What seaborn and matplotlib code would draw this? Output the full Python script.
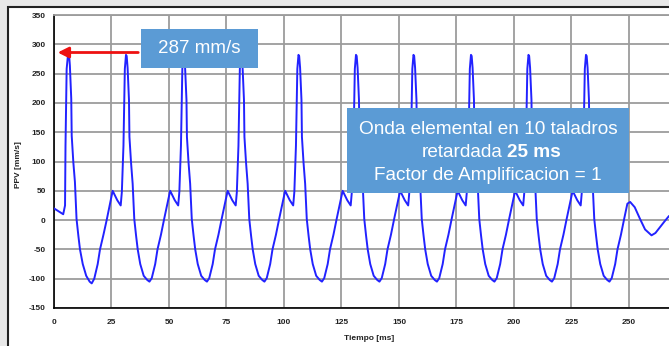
import matplotlib
matplotlib.use("Agg")
import matplotlib.pyplot as plt
import seaborn as sns
import pandas as pd
from matplotlib.patches import Rectangle

# ---- data ----
time_ms = [
    0, 2, 4, 4.8, 5.0, 5.5, 6.2, 6.5, 6.9, 7.5, 7.7, 8.4, 9.1, 9.8, 10.6, 11.3, 12.5, 14.0, 15.5, 16.4, 17.5, 19.0, 20.0, 21.5, 22.9, 24.3,
    25.5, 26.5, 27.5, 29.0, 29.5, 30.2, 30.8, 31.3, 31.6, 32.0, 32.6, 32.8, 33.5, 34.2, 34.9, 35.7, 36.4, 37.5, 39.0, 40.5, 41.5, 42.5, 44.0, 45.0, 46.5, 47.9, 49.3,
    50.5, 51.5, 52.5, 54.0, 54.5, 55.2, 55.8, 56.3, 56.6, 57.0, 57.6, 57.8, 58.5, 59.2, 59.9, 60.7, 61.4, 62.5, 64.0, 65.5, 66.5, 67.5, 69.0, 70.0, 71.5, 72.9, 74.3,
    75.5, 76.5, 77.5, 79.0, 79.5, 80.2, 80.8, 81.3, 81.6, 82.0, 82.6, 82.8, 83.5, 84.2, 84.9, 85.7, 86.4, 87.5, 89.0, 90.5, 91.5, 92.5, 94.0, 95.0, 96.5, 97.9, 99.3,
    100.5, 101.5, 102.5, 104.0, 104.5, 105.2, 105.8, 106.3, 106.6, 107.0, 107.6, 107.8, 108.5, 109.2, 109.9, 110.7, 111.4, 112.5, 114.0, 115.5, 116.5, 117.5, 119.0, 120.0, 121.5, 122.9, 124.3,
    125.5, 126.5, 127.5, 129.0, 129.5, 130.2, 130.8, 131.3, 131.6, 132.0, 132.6, 132.8, 133.5, 134.2, 134.9, 135.7, 136.4, 137.5, 139.0, 140.5, 141.5, 142.5, 144.0, 145.0, 146.5, 147.9, 149.3,
    150.5, 151.5, 152.5, 154.0, 154.5, 155.2, 155.8, 156.3, 156.6, 157.0, 157.6, 157.8, 158.5, 159.2, 159.9, 160.7, 161.4, 162.5, 164.0, 165.5, 166.5, 167.5, 169.0, 170.0, 171.5, 172.9, 174.3,
    175.5, 176.5, 177.5, 179.0, 179.5, 180.2, 180.8, 181.3, 181.6, 182.0, 182.6, 182.8, 183.5, 184.2, 184.9, 185.7, 186.4, 187.5, 189.0, 190.5, 191.5, 192.5, 194.0, 195.0, 196.5, 197.9, 199.3,
    200.5, 201.5, 202.5, 204.0, 204.5, 205.2, 205.8, 206.3, 206.6, 207.0, 207.6, 207.8, 208.5, 209.2, 209.9, 210.7, 211.4, 212.5, 214.0, 215.5, 216.5, 217.5, 219.0, 220.0, 221.5, 222.9, 224.3,
    225.5, 226.5, 227.5, 229.0, 229.5, 230.2, 230.8, 231.3, 231.6, 232.0, 232.6, 232.8, 233.5, 234.2, 234.9, 235.7, 236.4, 237.5, 239.0, 240.5, 241.5, 242.5, 244.0, 245.0, 246.5, 247.9, 249.3,
    250.5, 252.5, 254.8, 257.0, 259.8, 261.5, 263.5, 265.5, 267.4,
]
ppv_mm_s = [
    20, 15, 10, 25, 127, 258, 287, 285, 264, 207, 144, 99, 65, 2, -27, -50, -75, -95, -105, -108, -100, -75, -50, -25, 0, 27,
    50, 42, 34, 25, 48, 127, 258, 282, 280, 260, 205, 142, 98, 62, 2, -27, -50, -75, -95, -102, -105, -99, -75, -50, -25, 2, 28,
    50, 42, 34, 25, 48, 127, 258, 282, 280, 260, 205, 142, 98, 62, 2, -27, -50, -75, -95, -102, -105, -99, -75, -50, -25, 2, 28,
    50, 42, 34, 25, 48, 127, 258, 282, 280, 260, 205, 142, 98, 62, 2, -27, -50, -75, -95, -102, -105, -99, -75, -50, -25, 2, 28,
    50, 42, 34, 25, 48, 127, 258, 282, 280, 260, 205, 142, 98, 62, 2, -27, -50, -75, -95, -102, -105, -99, -75, -50, -25, 2, 28,
    50, 42, 34, 25, 48, 127, 258, 282, 280, 260, 205, 142, 98, 62, 2, -27, -50, -75, -95, -102, -105, -99, -75, -50, -25, 2, 28,
    50, 42, 34, 25, 48, 127, 258, 282, 280, 260, 205, 142, 98, 62, 2, -27, -50, -75, -95, -102, -105, -99, -75, -50, -25, 2, 28,
    50, 42, 34, 25, 48, 127, 258, 282, 280, 260, 205, 142, 98, 62, 2, -27, -50, -75, -95, -102, -105, -99, -75, -50, -25, 2, 28,
    50, 42, 34, 25, 48, 127, 258, 282, 280, 260, 205, 142, 98, 62, 2, -27, -50, -75, -95, -102, -105, -99, -75, -50, -25, 2, 28,
    50, 42, 34, 25, 48, 127, 258, 282, 280, 260, 205, 142, 98, 62, 2, -27, -50, -75, -95, -102, -105, -99, -75, -50, -25, 2, 28,
    31, 22, 2, -16, -26, -22, -12, -2, 7,
]
x_ticks = [0, 25, 50, 75, 100, 125, 150, 175, 200, 225, 250]
y_ticks = [-150, -100, -50, 0, 50, 100, 150, 200, 250, 300, 350]
x_label = "Tiempo [ms]"
y_label = "PPV [mm/s]"
peak_value = 286
peak_text = "287 mm/s"
info_line1 = "Onda elemental en 10 taladros"
info_line2a = "retardada"
info_line2b = "25 ms"
info_line3 = "Factor de Amplificacion = 1"

# ---- style ----
sns.set_theme(style="white")
plt.rcParams["font.family"] = ["Liberation Sans", "DejaVu Sans"]
plt.rcParams["axes.unicode_minus"] = False

W, H = 669, 346
fig = plt.figure(figsize=(W / 100, H / 100), dpi=100, facecolor="#e8e8e8")

# white chart panel with dark frame (behind the axes)
fig.patches.append(Rectangle((8 / W, -0.1), 1.2, (1 - 7 / H) + 0.1,
                             transform=fig.transFigure, facecolor="white",
                             edgecolor="#222222", linewidth=1.5, zorder=-5))

ax_left, ax_right, ax_top, ax_bot = 54, W, 15, 308
ax = fig.add_axes([ax_left / W, 1 - ax_bot / H, (ax_right - ax_left) / W, (ax_bot - ax_top) / H])
ax.set_zorder(1)
ax.set_facecolor("white")

df = pd.DataFrame({"t": time_ms, "ppv": ppv_mm_s})
sns.lineplot(data=df, x="t", y="ppv", ax=ax, color="#2222ff", linewidth=1.4, zorder=3)

ax.set_xlim(0, 267.4)
ax.set_ylim(-150, 350)
ax.set_xticks(x_ticks)
ax.set_yticks(y_ticks)
ax.grid(True, color="#9c9c9c", linewidth=1.3)
ax.set_axisbelow(True)

for s in ["left", "bottom"]:
    ax.spines[s].set_color("black")
    ax.spines[s].set_linewidth(1.2)
ax.spines["top"].set_color("#9c9c9c")
ax.spines["top"].set_linewidth(1.3)
ax.spines["right"].set_visible(False)

ax.tick_params(axis="both", direction="inout", length=6, width=1, color="black",
               labelsize=6, labelcolor="#222222")
ax.tick_params(axis="x", pad=5)
ax.tick_params(axis="y", pad=3)
for lab in ax.get_xticklabels() + ax.get_yticklabels():
    lab.set_fontweight("bold")

ax.set_xlabel(x_label, fontsize=6, fontweight="bold", color="#222222")
ax.set_ylabel(y_label, fontsize=6, fontweight="bold", color="#222222")
ax.xaxis.set_label_coords((369 - ax_left) / (ax_right - ax_left), (ax_bot - 335) / (ax_bot - ax_top))
ax.yaxis.set_label_coords((22 - ax_left) / (ax_right - ax_left), 0.49)

# red arrow to the first peak
box1_left_t = (141 - ax_left) / 2.3
ax.annotate("", xy=(0.4, peak_value), xytext=(box1_left_t, peak_value),
            arrowprops=dict(arrowstyle="-|>", color="#ee1111", lw=2, mutation_scale=16),
            zorder=5, annotation_clip=False)

box_color = "#5b9bd5"
tr = fig.transFigure
# peak label box
ax.add_patch(Rectangle((141 / W, 1 - 68 / H), 117 / W, 39 / H, transform=tr,
                       facecolor=box_color, edgecolor="none", zorder=6, clip_on=False))
ax.text(199.5 / W, 1 - 48.5 / H, peak_text, transform=tr, color="white", fontsize=13.5,
        ha="center", va="center", zorder=7)

# info box
ax.add_patch(Rectangle((347 / W, 1 - 193 / H), 282 / W, 85 / H, transform=tr,
                       facecolor=box_color, edgecolor="none", zorder=6, clip_on=False))
fs = 13.7
ax.text(488 / W, 1 - 130 / H, info_line1, transform=tr, color="white", fontsize=fs,
        ha="center", va="center", zorder=7)
ax.text(503 / W, 1 - 153 / H, info_line2a, transform=tr, color="white", fontsize=fs,
        ha="right", va="center", zorder=7)
ax.text(507 / W, 1 - 153 / H, info_line2b, transform=tr, color="white", fontsize=fs,
        fontweight="bold", ha="left", va="center", zorder=7)
ax.text(488 / W, 1 - 176 / H, info_line3, transform=tr, color="white", fontsize=fs,
        ha="center", va="center", zorder=7)

fig.savefig("out.png", dpi=100, facecolor=fig.get_facecolor())
